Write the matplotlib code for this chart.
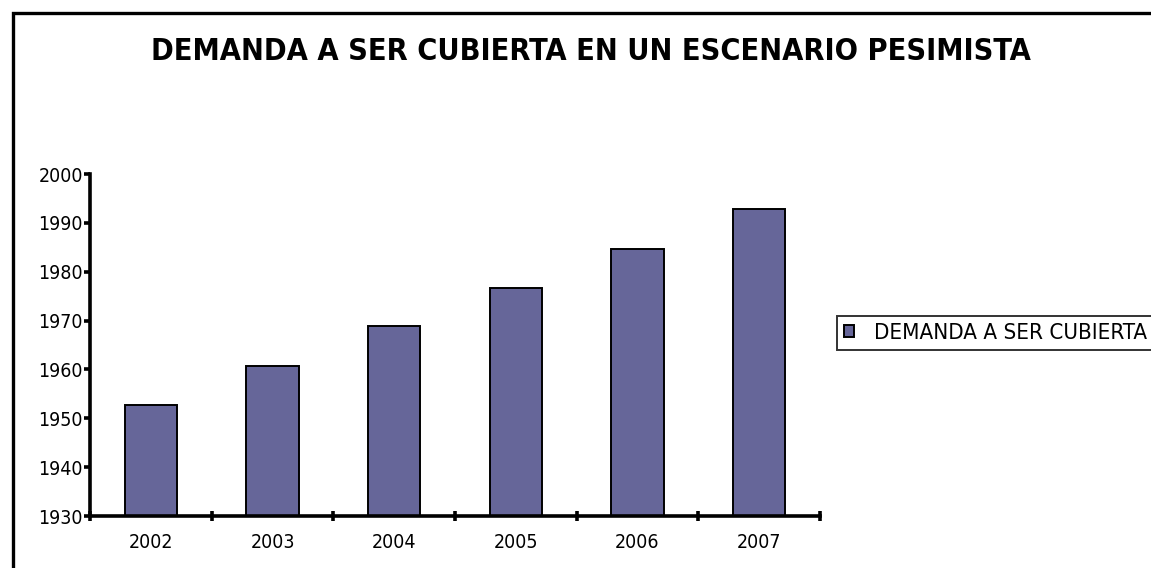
import matplotlib
matplotlib.use("Agg")
import matplotlib.pyplot as plt
from matplotlib import font_manager
from matplotlib.patches import Rectangle
from matplotlib.ticker import FixedLocator, NullFormatter

years = ["2002", "2003", "2004", "2005", "2006", "2007"]
demanda = [1952.8, 1960.7, 1968.8, 1976.7, 1984.6, 1992.8]
y_ticks = [1930, 1940, 1950, 1960, 1970, 1980, 1990, 2000]
title = "DEMANDA A SER CUBIERTA EN UN ESCENARIO PESIMISTA"
series_name = "DEMANDA A SER CUBIERTA"


def narrow_font():
    """Return FontProperties kwargs for the narrowest sans family available."""
    for fam, stretch in (("Liberation Sans Narrow", "normal"),
                         ("DejaVu Sans", "condensed"),
                         ("Roboto Condensed", "normal"),
                         ("Open Sans Condensed", "normal")):
        fp = font_manager.FontProperties(family=fam, stretch=stretch)
        try:
            path = font_manager.findfont(fp, fallback_to_default=False)
        except ValueError:
            continue
        if stretch == "condensed" and "Condensed" not in path:
            continue
        return dict(family=fam, stretch=stretch), path
    return dict(family="Liberation Sans", stretch="normal"), None


font_kw, found = narrow_font()
plt.rcParams["font.family"] = [font_kw["family"], "Liberation Sans", "DejaVu Sans"]
plt.rcParams["font.stretch"] = font_kw["stretch"]

W, H = 1151, 568
fig = plt.figure(figsize=(W / 100, H / 100), dpi=100)
fig.patch.set_facecolor("white")

# outer chart frame (runs off the right and bottom edges)
fig.patches.append(Rectangle((12.5 / W, -0.05), 1.2, 1 - 12.5 / H + 0.05,
                             transform=fig.transFigure, fill=False,
                             edgecolor="black", linewidth=2.4, zorder=0))

ax = fig.add_axes([90 / W, 1 - 516 / H, (820 - 90) / W, (516 - 174) / H])
x = list(range(len(years)))
bars = ax.bar(x, [v - 1930 for v in demanda], bottom=1930, width=0.43,
              color="#666699", edgecolor="black", linewidth=1.4,
              label=series_name, zorder=2)

ax.set_xlim(-0.5, len(years) - 0.5)
ax.set_ylim(1930, 2000)

for s in ("top", "right"):
    ax.spines[s].set_visible(False)
for s in ("left", "bottom"):
    ax.spines[s].set_linewidth(2.6)
    ax.spines[s].set_zorder(3)

ax.set_yticks(y_ticks)
ax.set_yticklabels([str(t) for t in y_ticks])
ax.tick_params(axis="y", direction="out", length=4, width=2.6, pad=1,
               labelsize=14)

# category boundaries carry the ticks, labels sit at bar centres
ax.xaxis.set_major_locator(FixedLocator([i - 0.5 for i in range(len(years) + 1)]))
ax.xaxis.set_major_formatter(NullFormatter())
ax.xaxis.set_minor_locator(FixedLocator(x))
ax.set_xticklabels(years, minor=True)
ax.tick_params(axis="x", which="major", direction="inout", length=7, width=2.6)
ax.tick_params(axis="x", which="minor", length=0, pad=12, labelsize=14)

fig.text(591 / W, 1 - 52 / H, title, ha="center", va="center",
         fontsize=22, fontweight="bold")

leg = fig.legend(handles=[bars], labels=[series_name],
                 loc="center left", bbox_to_anchor=(837 / W, 1 - 333 / H),
                 frameon=True, fancybox=False, edgecolor="black",
                 fontsize=16, handlelength=0.45, handleheight=0.45,
                 handletextpad=0.9, borderpad=0.3, borderaxespad=0)
leg.get_frame().set_linewidth(1.4)

fig.savefig("out.png", dpi=100)
